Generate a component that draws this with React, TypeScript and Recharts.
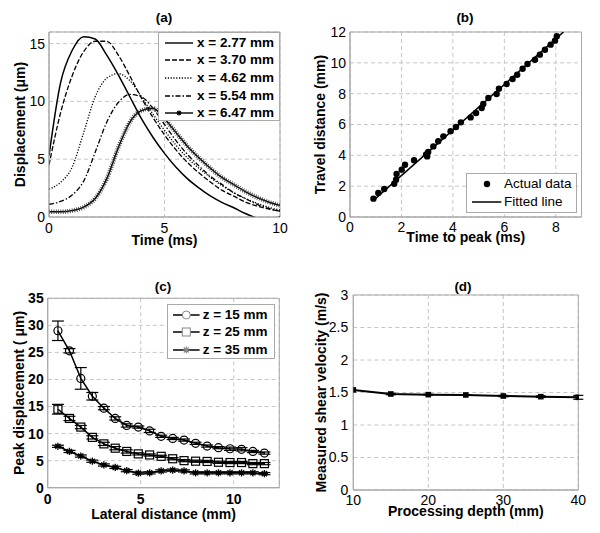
import React from 'react';
import {
  LineChart,
  ComposedChart,
  Line,
  Scatter,
  XAxis,
  YAxis,
  CartesianGrid,
  ReferenceArea,
  ErrorBar,
} from 'recharts';

const FONT = '"Liberation Sans", Arial, Helvetica, sans-serif';
const FRAME = '#a9a9a9';
const GRID = '#c6c6c6';
const GRID_DASH = '4 3';

// ---------- Panel (a): displacement vs time ----------
const timeMs = [0, 0.5, 1, 1.5, 2, 2.5, 3, 3.5, 4, 4.5, 5, 5.5, 6, 6.5, 7, 7.5, 8, 8.5, 9, 9.5, 10];
const disp277 = [5.3, 11.6, 14.4, 15.6, 15.4, 14.0, 12.3, 10.4, 8.5, 6.9, 5.5, 4.3, 3.3, 2.5, 1.8, 1.25, 0.8, 0.3, -0.1, -0.3, 0.05];
const disp370 = [4.5, 9.0, 12.2, 14.3, 15.2, 15.2, 14.0, 12.2, 10.3, 8.6, 7.1, 5.8, 4.7, 3.8, 3.0, 2.3, 1.8, 1.3, 0.95, 0.7, 0.5];
const disp462 = [2.4, 3.0, 4.3, 7.3, 10.4, 12.0, 12.4, 11.8, 10.4, 8.9, 7.5, 6.2, 5.1, 4.2, 3.4, 2.7, 2.1, 1.6, 1.2, 0.85, 0.6];
const disp554 = [1.1, 1.35, 1.9, 3.1, 5.6, 8.2, 9.9, 10.6, 10.4, 9.4, 8.0, 6.6, 5.4, 4.4, 3.5, 2.8, 2.1, 1.6, 1.1, 0.75, 0.5];
const disp647 = [0.45, 0.45, 0.55, 0.85, 1.6, 3.3, 6.0, 8.2, 9.2, 9.4, 8.5, 7.3, 6.1, 5.1, 4.2, 3.4, 2.8, 2.2, 1.7, 1.3, 1.0];
const legendA = ['x = 2.77 mm', 'x = 3.70 mm', 'x = 4.62 mm', 'x = 5.54 mm', 'x = 6.47 mm'];
const ticksAx = [0, 5, 10];
const ticksAy = [0, 5, 10, 15];

// ---------- Panel (b): travel distance vs time to peak ----------
const peakTime = [0.91, 1.1, 1.33, 1.72, 1.79, 1.81, 2.01, 2.14, 2.49, 2.96, 3.0, 3.04, 3.24, 3.43, 3.63, 3.91, 4.12, 4.31, 4.69, 4.9, 5.12, 5.18, 5.38, 5.7, 5.79, 6.09, 6.32, 6.5, 6.71, 6.9, 7.19, 7.38, 7.58, 7.8, 7.97, 8.04];
const travelDist = [1.19, 1.56, 1.82, 2.16, 2.42, 2.79, 3.07, 3.39, 3.68, 4.05, 3.93, 4.22, 4.58, 4.91, 5.23, 5.56, 5.84, 6.14, 6.46, 6.75, 7.07, 7.33, 7.72, 7.98, 8.32, 8.63, 8.95, 9.23, 9.62, 9.92, 10.2, 10.53, 10.85, 11.18, 11.44, 11.72];
const fitTime = [0.9, 8.3];
const fitDist = [1.06, 12.0];
const legendB = ['Actual data', 'Fitted line'];
const ticksBx = [0, 2, 4, 6, 8];
const ticksBy = [0, 2, 4, 6, 8, 10, 12];

// ---------- Panel (c): peak displacement vs lateral distance ----------
const lateralMm = [0.55, 1.17, 1.78, 2.4, 3.02, 3.63, 4.25, 4.87, 5.48, 6.1, 6.72, 7.33, 7.95, 8.57, 9.18, 9.8, 10.42, 11.03, 11.65];
const peak15 = [29.0, 25.3, 20.2, 16.9, 14.7, 12.8, 11.5, 11.2, 10.5, 9.5, 9.1, 8.8, 8.2, 7.7, 7.4, 7.2, 7.1, 6.7, 6.4];
const err15 = [1.8, 0.4, 2.0, 0.7, 0.3, 0.3, 0.3, 0.2, 0.3, 0.2, 0.2, 0.2, 0.2, 0.2, 0.2, 0.3, 0.3, 0.2, 0.2];
const peak25 = [14.5, 12.8, 11.2, 9.3, 8.1, 7.3, 6.7, 6.25, 6.05, 5.8, 5.35, 5.0, 4.9, 4.85, 4.7, 4.65, 4.65, 4.45, 4.45];
const err25 = [0.9, 0.4, 0.3, 0.3, 0.3, 0.3, 0.3, 0.2, 0.2, 0.2, 0.2, 0.2, 0.2, 0.2, 0.2, 0.2, 0.2, 0.2, 0.2];
const peak35 = [7.65, 6.7, 5.85, 4.9, 4.2, 3.75, 3.15, 2.7, 2.75, 3.1, 3.25, 3.1, 2.75, 2.75, 2.75, 2.75, 2.75, 2.75, 2.6];
const err35 = [0.2, 0.2, 0.2, 0.2, 0.2, 0.2, 0.2, 0.2, 0.2, 0.2, 0.2, 0.2, 0.2, 0.2, 0.2, 0.2, 0.2, 0.2, 0.2];
const legendC = ['z = 15 mm', 'z = 25 mm', 'z = 35 mm'];
const ticksCx = [0, 5, 10];
const ticksCy = [0, 5, 10, 15, 20, 25, 30, 35];

// ---------- Panel (d): shear velocity vs processing depth ----------
const depthMm = [10, 15, 20, 25, 30, 35, 40];
const shearVel = [1.54, 1.477, 1.467, 1.462, 1.446, 1.436, 1.426];
const shearErr = [0, 0.012, 0.006, 0.006, 0.01, 0.012, 0.03];
const ticksDx = [10, 20, 30, 40];
const ticksDy = [0, 0.5, 1, 1.5, 2, 2.5, 3];

// ---------- tables built from the arrays ----------
const dataA = timeMs.map((t, i) => ({ t, a: disp277[i], b: disp370[i], c: disp462[i], d: disp554[i], e: disp647[i] }));
const ptsB = peakTime.map((x, i) => ({ x, y: travelDist[i] }));
const fitB = fitTime.map((x, i) => ({ x, y: fitDist[i] }));
const dataC = lateralMm.map((x, i) => ({
  x, z15: peak15[i], e15: err15[i], z25: peak25[i], e25: err25[i], z35: peak35[i], e35: err35[i],
}));
const dataD = depthMm.map((x, i) => ({ x, v: shearVel[i], e: shearErr[i] }));

// ---------- helpers ----------
const tickReg = { fill: '#000', fontSize: 14, fontFamily: FONT };
const tickBold = { fill: '#000', fontSize: 14, fontFamily: FONT, fontWeight: 'bold' as const };

function xTitle(text: string, baseline: number) {
  return (props: any) => {
    const vb = props?.viewBox ?? {};
    const cx = (vb.x ?? 0) + (vb.width ?? 0) / 2;
    return (
      <text x={cx} y={baseline} textAnchor="middle" fontFamily={FONT} fontSize={14} fontWeight="bold" fill="#000">
        {text}
      </text>
    );
  };
}

function yTitle(text: string, baselineX: number) {
  return (props: any) => {
    const vb = props?.viewBox ?? {};
    const cy = (vb.y ?? 0) + (vb.height ?? 0) / 2;
    return (
      <text
        x={baselineX}
        y={cy}
        transform={`rotate(-90 ${baselineX} ${cy})`}
        textAnchor="middle"
        fontFamily={FONT}
        fontSize={14}
        fontWeight="bold"
        fill="#000"
      >
        {text}
      </text>
    );
  };
}

function starPath(cx: number, cy: number, r: number) {
  const d = r * 0.72;
  return `M${cx - r},${cy}H${cx + r}M${cx},${cy - r}V${cy + r}M${cx - d},${cy - d}L${cx + d},${cy + d}M${cx - d},${cy + d}L${cx + d},${cy - d}`;
}

const circleDot = (p: any) => (
  <circle key={`c${p.index}`} cx={p.cx} cy={p.cy} r={4} fill="none" stroke="#000" strokeWidth={1.2} />
);
const squareDot = (p: any) => (
  <rect key={`s${p.index}`} x={p.cx - 4} y={p.cy - 4} width={8} height={8} fill="none" stroke="#000" strokeWidth={1.2} />
);
const starDot = (p: any) => (
  <path key={`a${p.index}`} d={starPath(p.cx, p.cy, 3.6)} stroke="#000" strokeWidth={1.3} fill="none" />
);
const filledSquareDot = (p: any) => (
  <rect key={`q${p.index}`} x={p.cx - 2.8} y={p.cy - 2.8} width={5.6} height={5.6} fill="#000" />
);

function PanelTitle({ text, cx, cy }: { text: string; cx: number; cy: number }) {
  return (
    <div
      style={{
        position: 'absolute',
        left: cx - 30,
        top: cy - 8,
        width: 60,
        height: 16,
        lineHeight: '16px',
        textAlign: 'center',
        fontFamily: FONT,
        fontWeight: 'bold',
        fontSize: 13.5,
        color: '#000',
      }}
    >
      {text}
    </div>
  );
}

type LegendItem = { label: string; swatch: React.ReactNode };

function LegendBox(props: {
  left: number; top: number; width: number; height: number;
  firstCenter: number; step: number; swatchLeft: number; swatchW: number; textLeft: number;
  bold: boolean; items: LegendItem[];
}) {
  const { left, top, width, height, firstCenter, step, swatchLeft, swatchW, textLeft, bold, items } = props;
  return (
    <div
      style={{
        position: 'absolute', left, top, width, height, boxSizing: 'border-box',
        border: `1px solid ${FRAME}`, background: '#fff',
      }}
    >
      {items.map((it, i) => {
        const c = firstCenter + step * i;
        return (
          <React.Fragment key={it.label}>
            <svg
              width={swatchW}
              height={12}
              style={{ position: 'absolute', left: swatchLeft - 1, top: c - 6 - 1, overflow: 'visible' }}
            >
              {it.swatch}
            </svg>
            <div
              style={{
                position: 'absolute', left: textLeft - 1, top: c - 9 - 1, height: 18, lineHeight: '18px',
                whiteSpace: 'nowrap', fontFamily: FONT, fontSize: 13.5,
                fontWeight: bold ? 'bold' : 'normal', color: '#000',
              }}
            >
              {it.label}
            </div>
          </React.Fragment>
        );
      })}
    </div>
  );
}

const lineSw = (w: number, dash?: string, width = 1.4) => (
  <line x1={0} y1={6} x2={w} y2={6} stroke="#000" strokeWidth={width} strokeDasharray={dash} />
);

export default function App() {
  const dashA = [undefined, '5 2', '1.2 1.6', '5 2 1.5 2'];
  const legendAItems: LegendItem[] = legendA.map((label, i) => ({
    label,
    swatch:
      i < 4 ? (
        lineSw(28, dashA[i])
      ) : (
        <g>
          {lineSw(28, undefined, 1.4)}
          <path d={starPath(14, 6, 2.5)} stroke="#000" strokeWidth={1.2} />
        </g>
      ),
  }));
  const legendBItems: LegendItem[] = [
    { label: legendB[0], swatch: <circle cx={15} cy={6} r={3.2} fill="#000" /> },
    { label: legendB[1], swatch: lineSw(29.3, undefined, 1.5) },
  ];
  const markC = [circleDot, squareDot, starDot];
  const legendCItems: LegendItem[] = legendC.map((label, i) => ({
    label,
    swatch: (
      <g>
        {lineSw(26.6, undefined, 1.5)}
        {i === 0 && <circle cx={13.3} cy={6} r={4} fill="#fff" stroke="#888" strokeWidth={1} />}
        {i === 1 && <rect x={9.3} y={2} width={8} height={8} fill="#fff" stroke="#888" strokeWidth={1} />}
        {i === 2 && <path d={starPath(13.3, 6, 3.5)} stroke="#888" strokeWidth={1.2} />}
      </g>
    ),
  }));

  return (
    <div style={{ position: 'absolute', left: 0, top: 0, width: 600, height: 533, background: '#fff', overflow: 'hidden' }}>
      {/* Panel (a) */}
      <div style={{ position: 'absolute', left: 0, top: 0 }}>
        <LineChart width={300} height={260} data={dataA} margin={{ top: 32, right: 20, bottom: 8, left: 9 }}>
          <CartesianGrid stroke={GRID} strokeDasharray={GRID_DASH} />
          <XAxis
            dataKey="t" type="number" domain={[0, 10]} ticks={ticksAx} allowDataOverflow
            stroke={FRAME} tickLine={false} tickSize={4} tickMargin={2} tick={tickReg} height={35}
            label={xTitle('Time (ms)', 245)}
          />
          <YAxis
            type="number" domain={[0, 16]} ticks={ticksAy} allowDataOverflow
            stroke={FRAME} tickLine={false} tickSize={4} tickMargin={0} tick={tickReg} width={40}
            label={yTitle('Displacement (μm)', 25)}
          />
          <ReferenceArea x1={0} x2={10} y1={0} y2={16} fill="none" stroke={FRAME} strokeWidth={1} />
          <Line type="monotone" dataKey="a" stroke="#000" strokeWidth={1.5} dot={false} isAnimationActive={false} />
          <Line type="monotone" dataKey="b" stroke="#000" strokeWidth={1.3} strokeDasharray="5 2" dot={false} isAnimationActive={false} />
          <Line type="monotone" dataKey="c" stroke="#000" strokeWidth={1.3} strokeDasharray="1.2 1.6" dot={false} isAnimationActive={false} />
          <Line type="monotone" dataKey="d" stroke="#000" strokeWidth={1.3} strokeDasharray="5 2 1.5 2" dot={false} isAnimationActive={false} />
          <Line type="monotone" dataKey="e" stroke="#000" strokeWidth={1.4} dot={false} isAnimationActive={false} />
          <Line type="monotone" dataKey="e" stroke="#333" strokeWidth={4.5} strokeDasharray="0.8 1.5" dot={false} legendType="none" isAnimationActive={false} />
        </LineChart>
      </div>
      <PanelTitle text="(a)" cx={164} cy={17.5} />
      <LegendBox left={158} top={32} width={122} height={89} firstCenter={10.7} step={17.65}
        swatchLeft={7} swatchW={28} textLeft={39} bold items={legendAItems} />

      {/* Panel (b) */}
      <div style={{ position: 'absolute', left: 300, top: 0 }}>
        <ComposedChart width={300} height={260} margin={{ top: 32, right: 18.5, bottom: 8, left: 10 }}>
          <CartesianGrid stroke={GRID} strokeDasharray={GRID_DASH} />
          <XAxis
            dataKey="x" type="number" domain={[0, 9]} ticks={ticksBx} allowDataOverflow
            stroke={FRAME} tickLine={false} tickSize={3.5} tickMargin={2} tick={tickReg} height={35}
            label={xTitle('Time to peak (ms)', 242)}
          />
          <YAxis
            dataKey="y" type="number" domain={[0, 12]} ticks={ticksBy} allowDataOverflow
            stroke={FRAME} tickLine={false} tickSize={4} tickMargin={0} tick={tickReg} width={40}
            label={yTitle('Travel distance (mm)', 25)}
          />
          <ReferenceArea x1={0} x2={9} y1={0} y2={12} fill="none" stroke={FRAME} strokeWidth={1} />
          <Line data={fitB} type="linear" dataKey="y" stroke="#000" strokeWidth={1.5} dot={false} isAnimationActive={false} />
          <Scatter
            data={ptsB} dataKey="y" fill="#000" isAnimationActive={false}
            shape={(p: any) => <circle cx={p.cx} cy={p.cy} r={3.2} fill="#000" />}
          />
        </ComposedChart>
      </div>
      <PanelTitle text="(b)" cx={465} cy={17.5} />
      <LegendBox left={465.7} top={173} width={111} height={40} firstCenter={11} step={18}
        swatchLeft={6} swatchW={29.3} textLeft={38.3} bold={false} items={legendBItems} />

      {/* Panel (c) */}
      <div style={{ position: 'absolute', left: 0, top: 266 }}>
        <LineChart width={300} height={267} data={dataC} margin={{ top: 32.3, right: 20.7, bottom: 10.3, left: 7.7 }}>
          <CartesianGrid stroke={GRID} strokeDasharray={GRID_DASH} />
          <XAxis
            dataKey="x" type="number" domain={[0, 12.45]} ticks={ticksCx} allowDataOverflow
            stroke={FRAME} tickLine={false} tickSize={4.5} tickMargin={2} tick={tickBold} height={35}
            label={xTitle('Lateral distance (mm)', 253.3)}
          />
          <YAxis
            type="number" domain={[0, 35]} ticks={ticksCy} allowDataOverflow
            stroke={FRAME} tickLine={false} tickSize={4} tickMargin={0} tick={tickBold} width={40}
            label={yTitle('Peak displacement ( μm)', 23.5)}
          />
          <ReferenceArea x1={0} x2={12.45} y1={0} y2={35} fill="none" stroke={FRAME} strokeWidth={1} />
          <Line type="linear" dataKey="z15" stroke="#000" strokeWidth={1.5} dot={markC[0]} isAnimationActive={false}>
            <ErrorBar dataKey="e15" width={6} stroke="#000" strokeWidth={1.2} direction="y" />
          </Line>
          <Line type="linear" dataKey="z25" stroke="#000" strokeWidth={1.5} dot={markC[1]} isAnimationActive={false}>
            <ErrorBar dataKey="e25" width={6} stroke="#000" strokeWidth={1.2} direction="y" />
          </Line>
          <Line type="linear" dataKey="z35" stroke="#000" strokeWidth={1.5} dot={markC[2]} isAnimationActive={false}>
            <ErrorBar dataKey="e35" width={6} stroke="#000" strokeWidth={1.2} direction="y" />
          </Line>
        </LineChart>
      </div>
      <PanelTitle text="(c)" cx={163} cy={287} />
      <LegendBox left={166.7} top={304.3} width={108.6} height={55} firstCenter={10.7} step={17.5}
        swatchLeft={6} swatchW={26.6} textLeft={36} bold items={legendCItems} />

      {/* Panel (d) */}
      <div style={{ position: 'absolute', left: 300, top: 266 }}>
        <LineChart width={300} height={267} data={dataD} margin={{ top: 29, right: 21.7, bottom: 8, left: 13.3 }}>
          <CartesianGrid stroke={GRID} strokeDasharray={GRID_DASH} />
          <XAxis
            dataKey="x" type="number" domain={[10, 40]} ticks={ticksDx} allowDataOverflow
            stroke={FRAME} tickLine={false} tickSize={3} tickMargin={2} tick={tickReg} height={35}
            label={xTitle('Processing depth (mm)', 250)}
          />
          <YAxis
            type="number" domain={[0, 3]} ticks={ticksDy} allowDataOverflow
            stroke={FRAME} tickLine={false} tickSize={5} tickMargin={0} tick={tickReg} width={40}
            label={yTitle('Measured shear velocity (m/s)', 26)}
          />
          <ReferenceArea x1={10} x2={40} y1={0} y2={3} fill="none" stroke={FRAME} strokeWidth={1} />
          <Line type="linear" dataKey="v" stroke="#000" strokeWidth={2} dot={filledSquareDot} isAnimationActive={false}>
            <ErrorBar dataKey="e" width={5} stroke="#000" strokeWidth={1.2} direction="y" />
          </Line>
        </LineChart>
      </div>
      <PanelTitle text="(d)" cx={463} cy={286.7} />
    </div>
  );
}
